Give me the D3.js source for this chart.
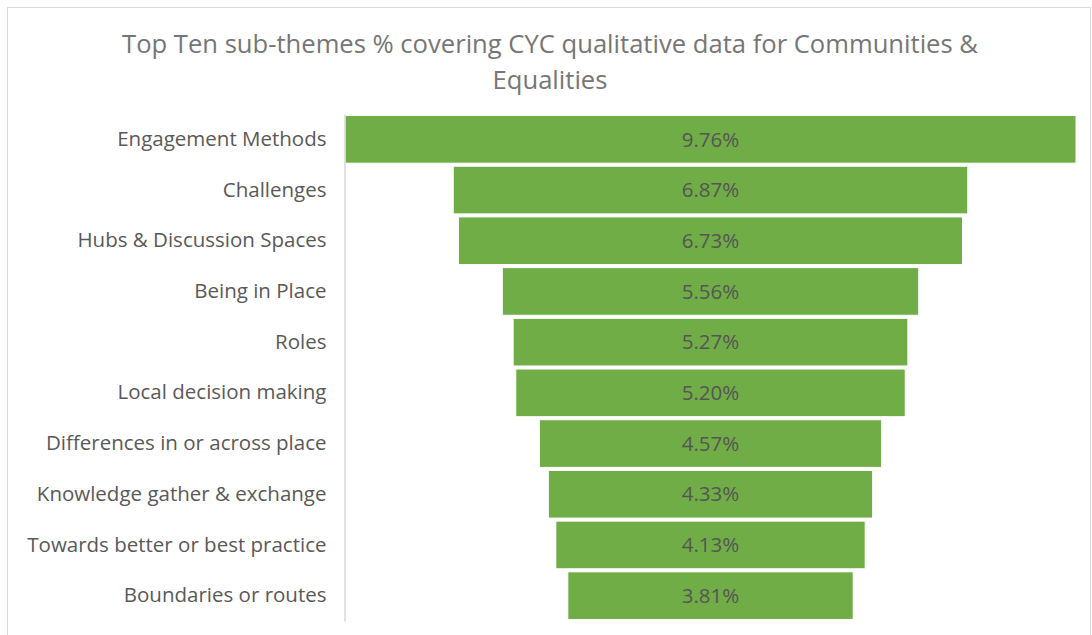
<!DOCTYPE html>
<html>
<head>
<meta charset="utf-8">
<script src="https://cdn.jsdelivr.net/npm/d3@7"></script>
<style>
  body { margin: 0; background: #fff; }
  svg text { font-family: "Open Sans", sans-serif; }
</style>
</head>
<body>
<svg id="chart" width="1092" height="635"></svg>
<script>
// sub-themes, top to bottom
var categories = [
  "Engagement Methods",
  "Challenges",
  "Hubs & Discussion Spaces",
  "Being in Place",
  "Roles",
  "Local decision making",
  "Differences in or across place",
  "Knowledge gather & exchange",
  "Towards better or best practice",
  "Boundaries or routes"
];
var values = [9.76, 6.87, 6.73, 5.56, 5.27, 5.20, 4.57, 4.33, 4.13, 3.81];
var titleLines = [
  "Top Ten sub-themes % covering CYC qualitative data for Communities &",
  "Equalities"
];

var svg = d3.select("#chart"),
    width = +svg.attr("width"),
    height = +svg.attr("height");

var plotLeft = 345, plotRight = 1076, plotTop = 114, plotBottom = 621;
var centre = (plotLeft + plotRight) / 2;

// chart frame
svg.append("rect")
  .attr("x", 7.5).attr("y", 7.5)
  .attr("width", 1083).attr("height", 640)
  .attr("fill", "#fff")
  .attr("stroke", "#d9d9d9");

svg.append("g")
  .selectAll("text")
  .data(titleLines)
  .enter().append("text")
    .attr("x", 550)
    .attr("y", function(d, i) { return 53 + i * 36; })
    .attr("text-anchor", "middle")
    .attr("font-size", 25.6)
    .attr("fill", "#767676")
    .text(function(d) { return d; });

var y = d3.scaleBand()
  .domain(categories)
  .range([plotTop, plotBottom])
  .paddingInner(0.06)
  .paddingOuter(0.03);

var w = d3.scaleLinear()
  .domain([0, d3.max(values)])
  .range([0, plotRight - plotLeft]);

var rows = categories.map(function(c, i) { return {name: c, value: values[i]}; });

svg.append("g")
  .selectAll("rect")
  .data(rows)
  .enter().append("rect")
    .attr("x", function(d) { return centre - w(d.value) / 2; })
    .attr("y", function(d) { return y(d.name); })
    .attr("width", function(d) { return w(d.value); })
    .attr("height", y.bandwidth())
    .attr("fill", "#70ad47")
    .attr("stroke", "#fff")
    .attr("stroke-width", 1);

svg.append("g")
  .selectAll("text")
  .data(rows)
  .enter().append("text")
    .attr("x", centre)
    .attr("y", function(d) { return y(d.name) + y.bandwidth() / 2; })
    .attr("dy", "0.35em")
    .attr("text-anchor", "middle")
    .attr("font-size", 20.5)
    .attr("fill", "#555")
    .text(function(d) { return d.value.toFixed(2) + "%"; });

// category axis on the left
var axis = svg.append("g")
  .attr("transform", "translate(" + (plotLeft - 0.5) + ",0)")
  .call(d3.axisLeft(y).tickSize(0).tickPadding(18));

axis.select(".domain").attr("stroke", "#d9d9d9").attr("stroke-width", 1.5);
axis.selectAll("text")
  .attr("font-family", "Open Sans, sans-serif")
  .attr("font-size", 20.5)
  .attr("fill", "#595959");
</script>
</body>
</html>
